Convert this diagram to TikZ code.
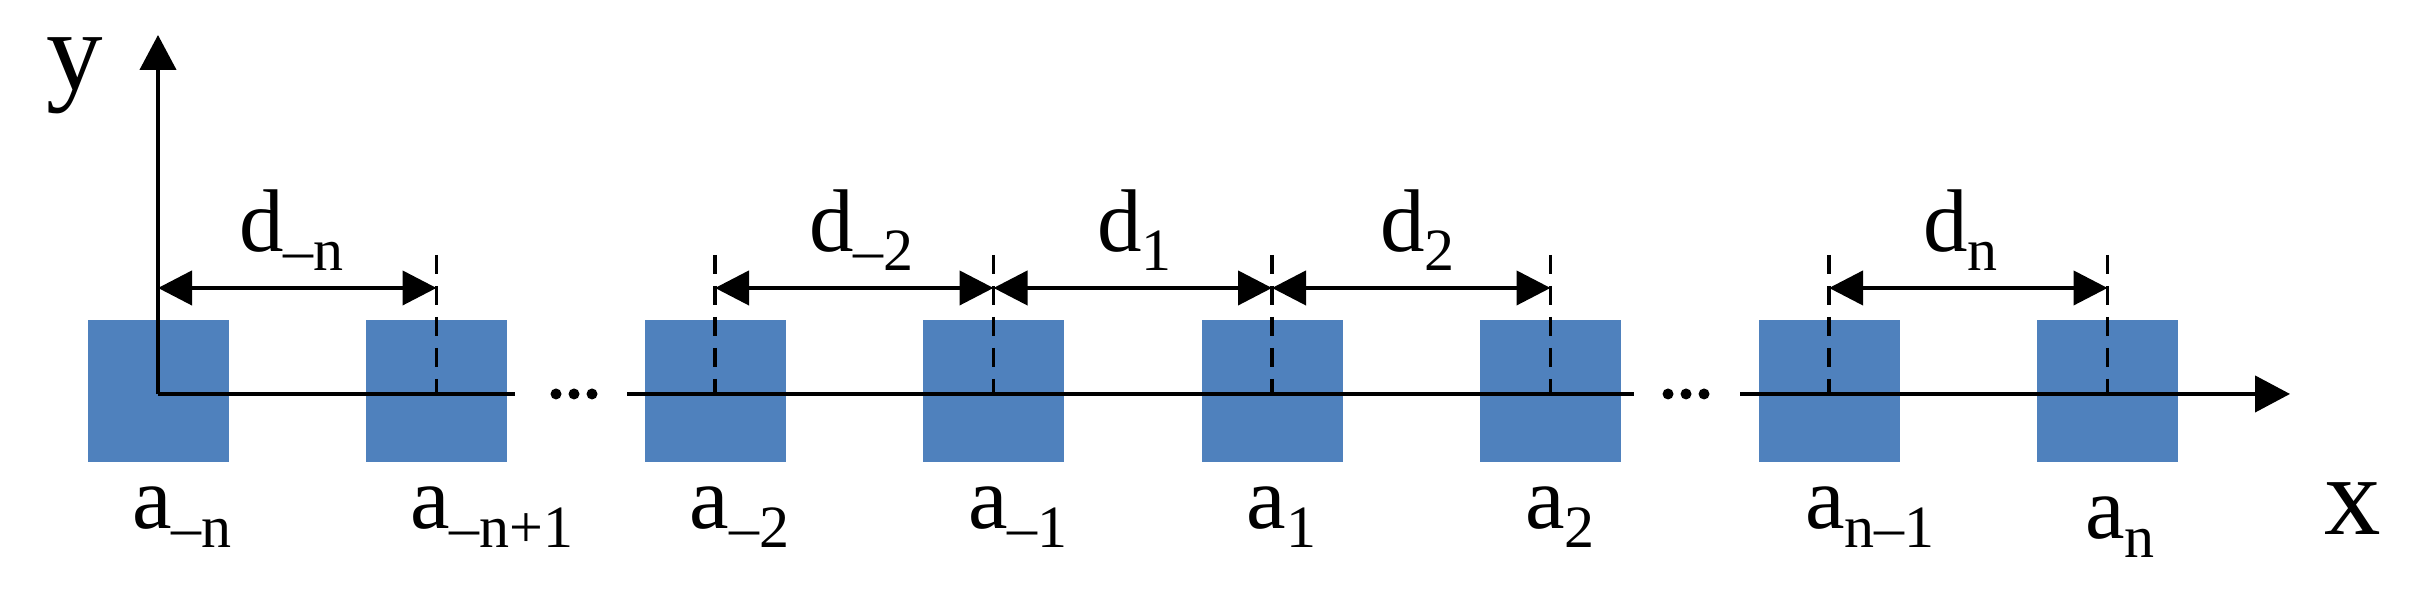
\documentclass[tikz,border=0pt]{standalone}
\usepackage{fontspec}
\setmainfont{Liberation Serif}
\usetikzlibrary{arrows.meta}
\definecolor{boxblue}{HTML}{4F81BD}
\newcommand{\lsub}[1]{\raisebox{-1.85pt}{\fontsize{6}{7}\selectfont #1}}
\begin{document}
\begin{tikzpicture}[x=0.1pt,y=-0.1pt,
  cell/.style={fill=boxblue, minimum width=14.1pt, minimum height=14.2pt, inner sep=0pt, outer sep=0pt},
  axisline/.style={line width=0.42pt},
  axisarrow/.style={line width=0.42pt,-{Triangle[length=3.5pt,width=3.6pt]}},
  dimarrow/.style={line width=0.42pt,{Triangle[length=3.4pt,width=3.4pt]}-{Triangle[length=3.4pt,width=3.4pt]}},
  guide/.style={line width=0.38pt,dash pattern=on 1.9pt off 1.2pt},
  lbl/.style={inner sep=0pt,anchor=base west,font=\fontsize{8.9}{10}\selectfont},
  axlbl/.style={inner sep=0pt,anchor=base,font=\fontsize{11.3}{13}\selectfont}
]
\useasboundingbox (0,0) rectangle (2413,589);
% squares
\foreach \k/\c in {0/158,1/436.5,2/715,3/993.5,4/1272,5/1550.5,6/1829,7/2107.5}{
  \node[cell] (s\k) at (\c,391) {};
  \coordinate (top\k) at (\c,255);
  \coordinate (base\k) at (\c,394);
  \coordinate (m\k) at (\c,288);
}
% guides
\foreach \k in {1,...,7}{\draw[guide] (top\k) -- (base\k);}
% axes
\coordinate (O) at (158,394);
\coordinate (ytip) at (158,35);
\coordinate (xa) at (515,394);
\coordinate (xb) at (627,394);
\coordinate (xc) at (1634,394);
\coordinate (xd) at (1740,394);
\coordinate (xtip) at (2290,394);
\draw[axisarrow] (O) -- (ytip);
\draw[axisline] (O) -- (xa);
\draw[axisline] (xb) -- (xc);
\draw[axisarrow] (xd) -- (xtip);
\foreach \px in {556,574,592,1668,1686,1704}{\fill (\px,394) circle[radius=0.55pt];}
% dimension arrows
\draw[dimarrow] (m0) -- (m1);
\draw[dimarrow] (m2) -- (m3);
\draw[dimarrow] (m3) -- (m4);
\draw[dimarrow] (m4) -- (m5);
\draw[dimarrow] (m6) -- (m7);
% d labels
\node[lbl] (dmn) at (237,252) {d\lsub{–n}};
\node[lbl] (dm2) at (807,252) {d\lsub{–2}};
\node[lbl] (d1) at (1095,252) {d\lsub{1}};
\node[lbl] (d2) at (1378,252) {d\lsub{2}};
\node[lbl] (dn) at (1921,252) {d\lsub{n}};
% a labels
\node[lbl] (amn) at (130.5,529) {a\lsub{–n}};
\node[lbl] (amn1) at (408,529) {a\lsub{–n+1}};
\node[lbl] (am2) at (687.5,529) {a\lsub{–2}};
\node[lbl] (am1) at (966,529) {a\lsub{–1}};
\node[lbl] (a1) at (1244.5,529) {a\lsub{1}};
\node[lbl] (a2) at (1523,529) {a\lsub{2}};
\node[lbl] (an1) at (1803,529) {a\lsub{n–1}};
\node[lbl] (an) at (2083,539) {a\lsub{n}};
% axis labels
\node[axlbl] (ylab) at (75,90) {y};
\node[axlbl] (xlab) at (2353,535) {x};
\end{tikzpicture}
\end{document}
